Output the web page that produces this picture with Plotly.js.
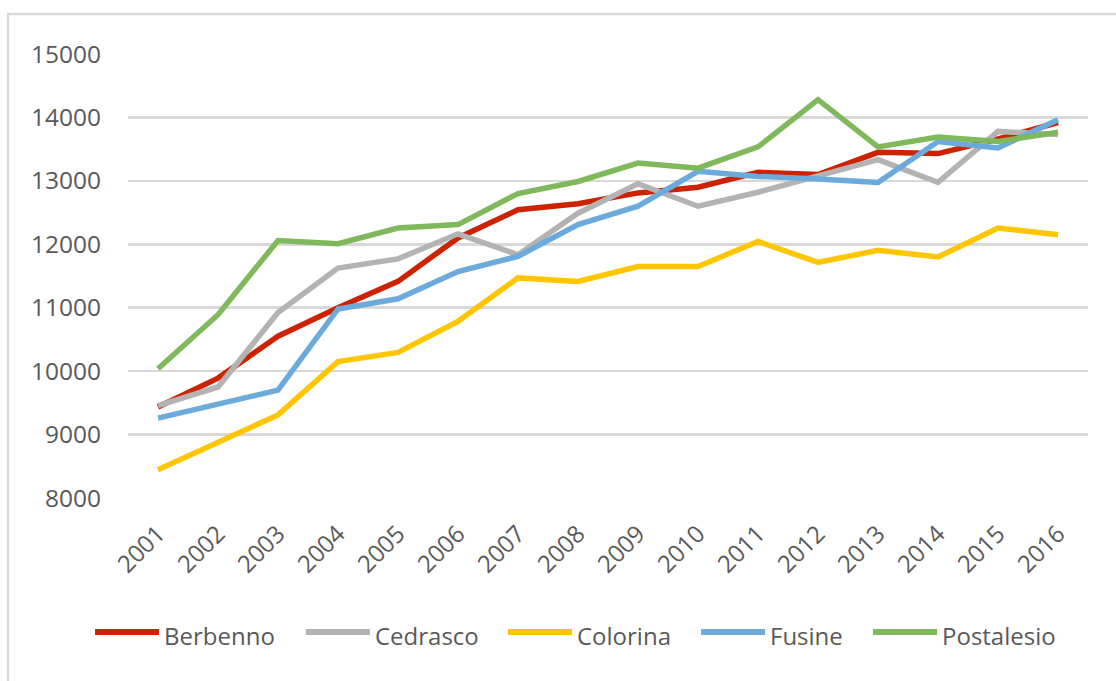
<!DOCTYPE html>
<html>
<head>
<meta charset="utf-8">
<script src="https://cdn.plot.ly/plotly-3.0.1.min.js"></script>
<style>
  body { margin: 0; background: #fff; }
  #chart { width: 1116px; height: 681px; }
</style>
</head>
<body>
<div id="chart"></div>
<script>
var years = ["2001", "2002", "2003", "2004", "2005", "2006", "2007", "2008",
             "2009", "2010", "2011", "2012", "2013", "2014", "2015", "2016"];

var berbenno   = [9435, 9890, 10550, 11000, 11415, 12100, 12545, 12640, 12810, 12900, 13135, 13100, 13450, 13430, 13660, 13920];
var cedrasco   = [9455, 9750, 10925, 11625, 11770, 12165, 11835, 12490, 12955, 12600, 12820, 13070, 13335, 12975, 13780, 13730];
var colorina   = [8446, 8880, 9310, 10150, 10295, 10785, 11470, 11415, 11650, 11650, 12045, 11715, 11905, 11800, 12255, 12150];
var fusine     = [9260, 9470, 9700, 10980, 11140, 11570, 11810, 12310, 12600, 13150, 13070, 13030, 12975, 13620, 13520, 13965];
var postalesio = [10038, 10890, 12060, 12010, 12257, 12310, 12800, 12990, 13280, 13200, 13535, 14280, 13535, 13690, 13620, 13765];

var names  = ["Berbenno", "Cedrasco", "Colorina", "Fusine", "Postalesio"];
var series = [berbenno, cedrasco, colorina, fusine, postalesio];
var colors = ["#CC2200", "#B3B3B3", "#FFC600", "#6BAADB", "#80B85C"];

// plot area in pixels
var L = 128, R = 28, T = 54, B = 183;
var W = 1116 - L - R, H = 681 - T - B;
function px(x) { return (x - L) / W; }
function py(y) { return (681 - B - y) / H; }

var data = series.map(function (s, i) {
  return {
    x: years,
    y: s,
    name: names[i],
    type: "scatter",
    mode: "lines",
    line: {color: colors[i], width: 5.5},
    showlegend: false
  };
});

// hand-made legend (Excel style long line symbols)
var legendX = [95, 306, 508, 701, 873];
var legendY = 632;
var shapes = [{
  type: "rect", xref: "paper", yref: "paper", layer: "below",
  x0: px(8), x1: px(1200), y0: py(800), y1: py(14),
  line: {color: "#d9d9d9", width: 2.5}, fillcolor: "rgba(0,0,0,0)"
}];
var annotations = [];
names.forEach(function (n, i) {
  shapes.push({
    type: "line", xref: "paper", yref: "paper",
    x0: px(legendX[i]), x1: px(legendX[i] + 64),
    y0: py(legendY), y1: py(legendY),
    line: {color: colors[i], width: 6}
  });
  annotations.push({
    xref: "paper", yref: "paper",
    x: px(legendX[i] + 67), y: py(legendY + 3),
    xanchor: "left", yanchor: "middle",
    text: n, showarrow: false,
    font: {family: "Open Sans, sans-serif", size: 24, color: "#595959"}
  });
});

var layout = {
  width: 1116,
  height: 681,
  margin: {l: L, r: R, t: T, b: B},
  paper_bgcolor: "#ffffff",
  plot_bgcolor: "#ffffff",
  font: {family: "Open Sans, sans-serif", size: 24, color: "#595959"},
  showlegend: false,
  xaxis: {
    type: "category",
    range: [-0.5, 15.5],
    tickangle: -45,
    showgrid: false,
    showline: false,
    zeroline: false,
    ticks: "",
    ticklabelstandoff: 16,
    tickfont: {size: 24}
  },
  yaxis: {
    range: [8000, 15000],
    dtick: 1000,
    showgrid: true,
    gridcolor: "#d9d9d9",
    gridwidth: 2.5,
    zeroline: false,
    showline: false,
    ticks: "",
    ticklabelstandoff: 26,
    tickformat: "d",
    tickfont: {size: 24.5}
  },
  shapes: shapes,
  annotations: annotations
};

Plotly.newPlot("chart", data, layout, {displayModeBar: false, staticPlot: true});
</script>
</body>
</html>
